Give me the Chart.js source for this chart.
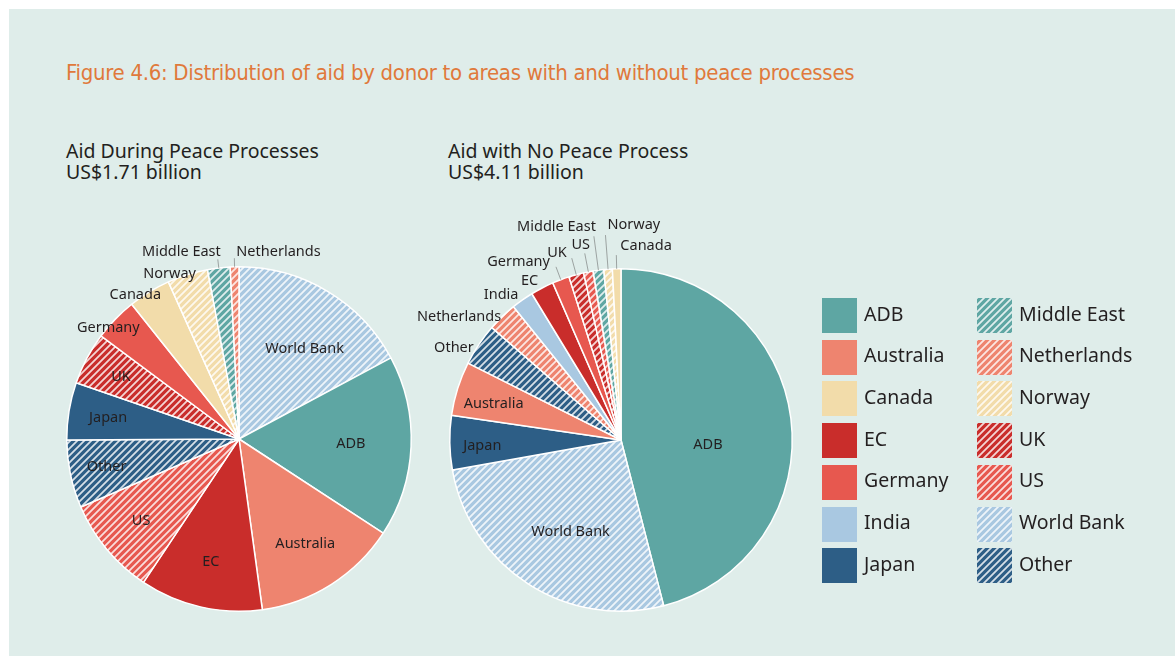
<!DOCTYPE html>
<html>
<head>
<meta charset="utf-8">
<script src="https://cdn.jsdelivr.net/npm/chart.js@4.4.1/dist/chart.umd.min.js"></script>
<style>
  html, body { margin: 0; padding: 0; background: #ffffff; }
  body { width: 1175px; height: 656px; position: relative; overflow: hidden; }
  #panel { position: absolute; left: 9px; top: 9px; width: 1166px; height: 647px; background: #dfedea; }
  .abs { position: absolute; white-space: nowrap; }
  #title { left: 66px; top: 62px; font: 22px "Liberation Sans Narrow", "DejaVu Sans Condensed", sans-serif; line-height: 22px; letter-spacing: -0.3px; color: #e0793b; }
  .sub { font: 19.5px "Noto Sans", sans-serif; line-height: 21px; color: #231f20; }
  canvas.pie { position: absolute; left: 0; top: 0; }
  .legtext { font: 19.5px "Noto Sans", sans-serif; line-height: 35px; color: #231f20; }
</style>
</head>
<body>
<div id="panel"></div>
<div id="title" class="abs">Figure 4.6: Distribution of aid by donor to areas with and without peace processes</div>
<div class="abs sub" style="left:66px; top:140px;">Aid During Peace Processes<br>US$1.71 billion</div>
<div class="abs sub" style="left:448px; top:140px;">Aid with No Peace Process<br>US$4.11 billion</div>
<canvas id="c1" class="pie" width="1175" height="656"></canvas>
<canvas id="c2" class="pie" width="1175" height="656"></canvas>
<div id="legend"></div>
<script>
// ---------- data (US$ million) ----------
const donors = ['ADB','Australia','Canada','EC','Germany','India','Japan','Middle East','Netherlands','Norway','UK','US','World Bank','Other'];
const peaceLabels = ['World Bank','ADB','Australia','EC','US','Other','Japan','UK','Germany','Canada','Norway','Middle East','Netherlands'];
const peaceValues = [294, 291, 233, 197, 157, 109, 92, 84, 70, 68, 65, 36, 14];
const noPeaceLabels = ['ADB','World Bank','Japan','Australia','Other','Netherlands','India','EC','Germany','UK','US','Middle East','Norway','Canada'];
const noPeaceValues = [1890, 1077, 210, 210, 164, 115, 86, 90, 66, 58, 37, 41, 33, 33];

// ---------- styles ----------
const baseColor = {
  'ADB':'#5ea6a3','Australia':'#ee846f','Canada':'#f2dcaa','EC':'#c92d2b','Germany':'#e7584f',
  'India':'#a9c8e1','Japan':'#2d5e86',
  'Middle East':'#5ea6a3','Netherlands':'#ee846f','Norway':'#f2dcaa','UK':'#c92d2b','US':'#e7584f',
  'World Bank':'#a9c8e1','Other':'#2d5e86'
};
const hatched = new Set(['Middle East','Netherlands','Norway','UK','US','World Bank','Other']);

function makeHatch(color) {
  const s = 7;
  const c = document.createElement('canvas');
  c.width = s; c.height = s;
  const x = c.getContext('2d');
  x.fillStyle = color; x.fillRect(0, 0, s, s);
  x.strokeStyle = 'rgba(255,255,255,0.8)';
  x.lineWidth = 1.8;
  x.beginPath();
  x.moveTo(0, s); x.lineTo(s, 0);
  x.moveTo(-s/2, s/2); x.lineTo(s/2, -s/2);
  x.moveTo(s/2, s*1.5); x.lineTo(s*1.5, s/2);
  x.stroke();
  return x.createPattern(c, 'repeat');
}
function fillFor(name) {
  return hatched.has(name) ? makeHatch(baseColor[name]) : baseColor[name];
}

// ---------- label layout ----------
const peaceLayout = {
  'World Bank': {f:0.65, dx:8, dy:6},
  'ADB': {f:0.65, dx:0, dy:0},
  'Australia': {f:0.72, dx:0, dy:0},
  'EC': {f:0.73, dx:0, dy:0},
  'US': {f:0.74, dx:0, dy:0},
  'Other': {f:0.785, dx:0, dy:0},
  'Japan': {f:0.77, dx:0, dy:0},
  'UK': {f:0.775, dx:0, dy:0},
  'Germany': {f:1.0, dx:-7, dy:9},
  'Canada': {f:1.0, dx:-14, dy:3},
  'Norway': {f:1.0, dx:-18, dy:-1},
  'Middle East': {line:[1.0, 1.05], align:'right', dx:3, dy:-8},
  'Netherlands': {line:[1.0, 1.05], align:'left', dx:2, dy:-6}
};
const noPeaceLayout = {
  'ADB': {f:0.5, dx:2, dy:16},
  'World Bank': {f:0.61, dx:6, dy:4},
  'Japan': {f:0.81, dx:0, dy:4},
  'Australia': {f:0.78, dx:0, dy:4},
  'Other': {f:1.0, align:'right', dx:-5, dy:3},
  'Netherlands': {f:1.0, align:'right', dx:-1, dy:0},
  'India': {f:1.0, align:'right', dx:-4, dy:-5},
  'EC': {f:1.0, align:'right', dx:-4, dy:-7},
  'Germany': {line:[1.0, 1.08], align:'right', dx:-6, dy:-5},
  'UK': {line:[1.0, 1.1], align:'right', dx:-5, dy:-5},
  'US': {line:[1.0, 1.11], align:'center', dx:-4, dy:-9},
  'Middle East': {line:[1.0, 1.2], align:'right', dx:2, dy:-9},
  'Norway': {line:[1.0, 1.2], align:'left', dx:2, dy:-10},
  'Canada': {line:[1.0, 1.08], align:'left', dx:4, dy:-9}
};

const sliceLabels = {
  id: 'sliceLabels',
  afterDatasetsDraw(chart, args, opts) {
    const ctx = chart.ctx;
    const meta = chart.getDatasetMeta(0);
    const labels = chart.data.labels;
    ctx.save();
    ctx.font = '14.5px "Noto Sans", sans-serif';
    ctx.fillStyle = '#231f20';
    ctx.textBaseline = 'middle';
    meta.data.forEach((arc, i) => {
      const p = arc.getProps(['x','y','startAngle','endAngle','outerRadius'], true);
      const mid = (p.startAngle + p.endAngle) / 2;
      const L = opts.layout[labels[i]];
      if (!L) return;
      const at = (rf) => [p.x + Math.cos(mid) * p.outerRadius * rf, p.y + Math.sin(mid) * p.outerRadius * rf];
      let ax, ay;
      if (L.line) {
        const a = at(L.line[0]), b = at(L.line[1]);
        ctx.strokeStyle = '#8a8f8e';
        ctx.lineWidth = 0.8;
        ctx.beginPath(); ctx.moveTo(a[0], a[1]); ctx.lineTo(b[0], b[1]); ctx.stroke();
        [ax, ay] = b;
      } else {
        [ax, ay] = at(L.f);
      }
      ctx.textAlign = L.align || 'center';
      ctx.fillText(labels[i], ax + (L.dx || 0), ay + (L.dy || 0));
    });
    ctx.restore();
  }
};

function makePie(id, labels, values, layout, pad) {
  new Chart(document.getElementById(id), {
    type: 'pie',
    data: {
      labels: labels,
      datasets: [{
        data: values,
        backgroundColor: labels.map(fillFor),
        borderColor: '#ffffff',
        borderWidth: 1.5
      }]
    },
    options: {
      responsive: false,
      animation: false,
      events: [],
      layout: { padding: pad },
      plugins: {
        legend: { display: false },
        tooltip: { enabled: false },
        sliceLabels: { layout: layout }
      }
    },
    plugins: [sliceLabels]
  });
}

makePie('c1', peaceLabels, peaceValues, peaceLayout, {left:66, right:763, top:266, bottom:44});
makePie('c2', noPeaceLabels, noPeaceValues, noPeaceLayout, {left:449, right:382, top:268, bottom:44});

// ---------- legend ----------
const legend = document.getElementById('legend');
donors.forEach((name, i) => {
  const col = Math.floor(i / 7), row = i % 7;
  const left = col === 0 ? 822 : 977;
  const top = 298 + row * 41.7;
  const sw = document.createElement('canvas');
  sw.width = 35; sw.height = 35;
  sw.style.cssText = `position:absolute; left:${left}px; top:${top}px;`;
  const sx = sw.getContext('2d');
  sx.fillStyle = fillFor(name);
  sx.fillRect(0, 0, 35, 35);
  legend.appendChild(sw);
  const t = document.createElement('div');
  t.className = 'abs legtext';
  t.style.left = (left + 42) + 'px';
  t.style.top = (top - 2.5) + 'px';
  t.textContent = name;
  legend.appendChild(t);
});
</script>
</body>
</html>
